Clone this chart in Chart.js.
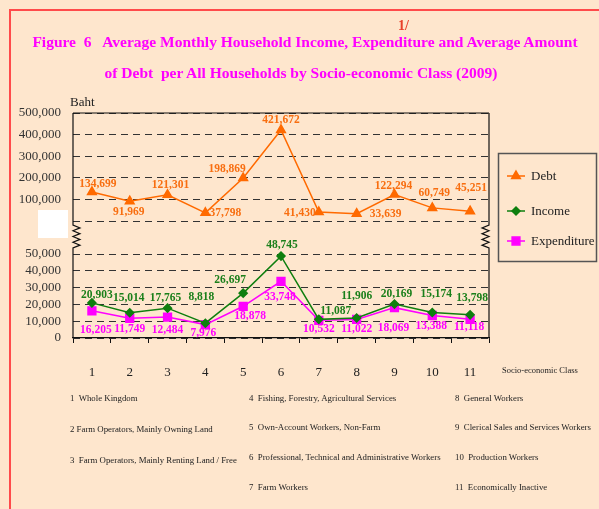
<!DOCTYPE html>
<html>
<head>
<meta charset="utf-8">
<script src="https://cdn.jsdelivr.net/npm/chart.js@4/dist/chart.umd.min.js"></script>
<style>
  body { margin: 0; background: #FEE6CD; }
  #wrap { position: relative; width: 599px; height: 509px; overflow: hidden; background: #FEE6CD; }
  #frame { position: absolute; left: 9px; top: 9px; width: 640px; height: 560px; border-left: 2px solid #FF4B4B; border-top: 2px solid #FF4B4B; }
  canvas { position: absolute; left: 0; top: 0; }
  .t { position: absolute; font-family: "Liberation Serif", "Times New Roman", serif; white-space: pre; line-height: 1; }
  .title { left: 0; width: 610px; text-align: center; font-weight: bold; font-size: 15.5px; color: #FF00FF; }
  .note { font-size: 8.8px; color: #222; }
</style>
</head>
<body>
<div id="wrap">
  <div id="frame"></div>
  <canvas id="grafico" width="599" height="509"></canvas>
  <div class="t" style="left:398px; top:19px; font-size:14px; font-weight:bold; color:#E8402A;">1/</div>
  <div class="t title" style="top:34px;">Figure  6   Average Monthly Household Income, Expenditure and Average Amount</div>
  <div class="t title" style="top:65px; width:602px;">of Debt  per All Households by Socio-economic Class (2009)</div>
  <div class="t" style="left:502px; top:366px; font-size:8.5px; color:#222;">Socio-economic Class</div>

  <div class="t note" style="left:70px; top:394px;">1  Whole Kingdom</div>
  <div class="t note" style="left:70px; top:425px;">2 Farm Operators, Mainly Owning Land</div>
  <div class="t note" style="left:70px; top:456px;">3  Farm Operators, Mainly Renting Land / Free</div>
  <div class="t note" style="left:249px; top:394px;">4  Fishing, Forestry, Agricultural Services</div>
  <div class="t note" style="left:249px; top:423px;">5  Own-Account Workers, Non-Farm</div>
  <div class="t note" style="left:249px; top:453px;">6  Professional, Technical and Administrative Workers</div>
  <div class="t note" style="left:249px; top:483px;">7  Farm Workers</div>
  <div class="t note" style="left:455px; top:394px;">8  General Workers</div>
  <div class="t note" style="left:455px; top:423px;">9  Clerical Sales and Services Workers</div>
  <div class="t note" style="left:455px; top:453px;">10  Production Workers</div>
  <div class="t note" style="left:455px; top:483px;">11  Economically Inactive</div>
</div>

<script>
const classes = ["1", "2", "3", "4", "5", "6", "7", "8", "9", "10", "11"];
const debt = [134699, 91969, 121301, 37798, 198869, 421672, 41430, 33639, 122294, 60749, 45251];
const income = [20903, 15014, 17765, 8818, 26697, 48745, 11087, 11906, 20169, 15174, 13798];
const expenditure = [16205, 11749, 12484, 7976, 18878, 33748, 10532, 11022, 18069, 13388, 11118];
const upperTicks = [0, 100000, 200000, 300000, 400000, 500000];
const lowerTicks = [0, 10000, 20000, 30000, 40000, 50000];

// where each value label sits, relative to its point (dx, dy)
const debtLabelPos = [[6,-8],[-1,11],[3,-10],[20,0],[-16,-9],[0,-10],[-19,1],[29,0],[-1,-9],[2,-15],[1,-23]];
const incomeLabelPos = [[5,-8],[-1,-15],[-2,-10],[-4,-26],[-13,-13],[1,-11],[17,-8],[0,-22],[2,-10],[4,-18],[2,-17]];
const expLabelPos = [[4,19],[0,11],[0,13],[-2,8],[7,10],[-1,16],[0,9],[0,10],[-1,20],[-1,11],[-1,8]];

const SERIF = "'Liberation Serif', 'Times New Roman', serif";
const fmt = v => v.toLocaleString("en-US");

const decor = {
  id: "decor",
  afterDatasetsDraw(chart) {
    const ctx = chart.ctx;
    ctx.save();
    ctx.font = "bold 11.5px " + SERIF;
    ctx.textAlign = "center";
    ctx.textBaseline = "middle";
    chart.data.datasets.forEach((ds, i) => {
      const meta = chart.getDatasetMeta(i);
      ctx.fillStyle = ds.labelColor;
      meta.data.forEach((pt, j) => {
        const off = ds.labelPos[j];
        ctx.fillText(fmt(ds.data[j]), pt.x + off[0], pt.y + off[1]);
      });
    });
    ctx.restore();
  },
  afterDraw(chart) {
    const ctx = chart.ctx;
    const area = chart.chartArea;
    const top = chart.scales.yTop;
    const bot = chart.scales.yBot;
    const yTopEnd = top.bottom + 4;
    const yBotStart = bot.getPixelForValue(50000) - 6;
    ctx.save();
    ctx.strokeStyle = "#111";
    ctx.lineWidth = 1.2;

    // top frame line
    ctx.beginPath();
    ctx.moveTo(area.left, top.top);
    ctx.lineTo(area.right, top.top);
    ctx.stroke();

    // left and right axis lines with break marks
    [[area.left, 1], [area.right, -1]].forEach(([x, dir]) => {
      ctx.beginPath();
      ctx.moveTo(x, top.top);
      ctx.lineTo(x, yTopEnd);
      const steps = 8;
      const h = (yBotStart - yTopEnd) / steps;
      for (let k = 1; k <= steps; k++) {
        ctx.lineTo(k % 2 ? x + 7 * dir : x, yTopEnd + h * k);
      }
      ctx.lineTo(x, area.bottom);
      ctx.stroke();
    });

    // white patch left of the break
    ctx.fillStyle = "#FFFFFF";
    ctx.fillRect(38, 210, 30, 28);

    // unit label
    ctx.fillStyle = "#222";
    ctx.font = "13px " + SERIF;
    ctx.textAlign = "left";
    ctx.textBaseline = "middle";
    ctx.fillText("Baht", 70, 103);

    // legend
    ctx.strokeStyle = "#555";
    ctx.lineWidth = 1.5;
    ctx.strokeRect(498.5, 153.5, 98, 108);
    const rows = [176, 211, 241];
    chart.data.datasets.forEach((ds, i) => {
      const y = rows[i];
      ctx.strokeStyle = ds.borderColor;
      ctx.fillStyle = ds.borderColor;
      ctx.lineWidth = 1.5;
      ctx.beginPath();
      ctx.moveTo(507, y);
      ctx.lineTo(525, y);
      ctx.stroke();
      Chart.helpers.drawPoint(ctx, { pointStyle: ds.pointStyle, radius: ds.pointRadius, rotation: 0, borderWidth: 1 }, 516, y);
      ctx.fillStyle = "#222";
      ctx.font = "13px " + SERIF;
      ctx.fillText(ds.label, 531, y + 1);
    });
    ctx.restore();
  }
};

const yTickStyle = { padding: 12, font: { family: SERIF, size: 13 }, color: "#333", callback: v => fmt(v) };

new Chart(document.getElementById("grafico"), {
  type: "line",
  data: {
    labels: classes,
    datasets: [
      {
        label: "Debt", data: debt, yAxisID: "yTop",
        borderColor: "#FF6A00", backgroundColor: "#FF6A00", labelColor: "#F86E10",
        pointStyle: "triangle", pointRadius: 5, borderWidth: 1.5, labelPos: debtLabelPos
      },
      {
        label: "Income", data: income, yAxisID: "yBot",
        borderColor: "#0F7F0F", backgroundColor: "#0F7F0F", labelColor: "#1A7F1A",
        pointStyle: "rectRot", pointRadius: 4, borderWidth: 1.5, labelPos: incomeLabelPos
      },
      {
        label: "Expenditure", data: expenditure, yAxisID: "yBot",
        borderColor: "#FF00FF", backgroundColor: "#FF00FF", labelColor: "#FF00FF",
        pointStyle: "rect", pointRadius: 5.5, borderWidth: 1.5, labelPos: expLabelPos
      }
    ]
  },
  options: {
    responsive: false,
    animation: false,
    layout: { padding: { left: 0, right: 110, top: 113, bottom: 0 } },
    plugins: { legend: { display: false }, tooltip: { enabled: false } },
    scales: {
      x: {
        offset: true,
        grid: { drawOnChartArea: false, tickLength: 5, color: "#111", offset: true },
        border: { color: "#111", width: 1.2 },
        ticks: { font: { family: SERIF, size: 13 }, color: "#222", padding: 22, maxRotation: 0 },
        afterFit: s => { s.height = 171; }
      },
      // the lower panel is listed first: stacked left axes are laid out bottom-up
      yBot: {
        position: "left", stack: "v", stackWeight: 117,
        min: 0, max: 69643,
        afterBuildTicks: s => { s.ticks = lowerTicks.map(v => ({ value: v })); },
        grid: { color: "#333", drawTicks: false },
        border: { display: false, dash: [7, 5] },
        ticks: yTickStyle,
        afterFit: s => { s.width = 73; }
      },
      yTop: {
        position: "left", stack: "v", stackWeight: 108,
        min: 0, max: 500000,
        afterBuildTicks: s => { s.ticks = upperTicks.map(v => ({ value: v })); },
        grid: { color: "#333", drawTicks: false },
        border: { display: false, dash: [7, 5] },
        ticks: yTickStyle,
        afterFit: s => { s.width = 73; }
      }
    }
  },
  plugins: [decor]
});
</script>
</body>
</html>
